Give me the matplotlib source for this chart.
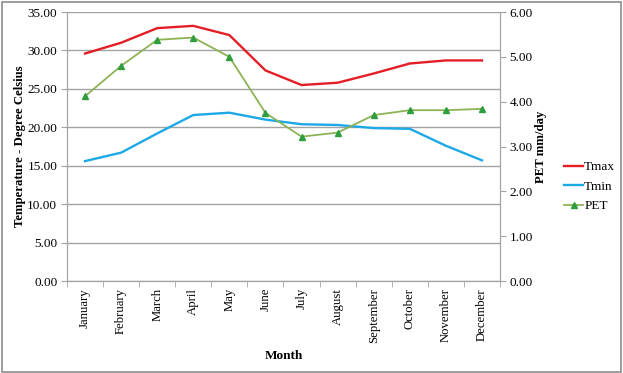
import matplotlib.pyplot as plt
from matplotlib.patches import Rectangle
import numpy as np

months = ["January", "February", "March", "April", "May", "June", "July",
          "August", "September", "October", "November", "December"]
tmax = [29.6, 31.0, 32.9, 33.2, 32.0, 27.4, 25.5, 25.8, 27.0, 28.3, 28.7, 28.7]
tmin = [15.6, 16.7, 19.2, 21.6, 21.9, 21.0, 20.4, 20.3, 19.9, 19.8, 17.6, 15.7]
pet = [4.12, 4.80, 5.38, 5.43, 5.00, 3.75, 3.22, 3.31, 3.70, 3.81, 3.81, 3.84]

plt.rcParams["font.family"] = ["Liberation Serif", "DejaVu Serif"]
plt.rcParams["font.size"] = 9.5

fig = plt.figure(figsize=(6.23, 3.73), dpi=100)
ax = fig.add_axes([0.1075, 0.2466, 0.6951, 0.7212])
ax2 = ax.twinx()

x = np.arange(len(months))
grid_c = "#A3A3A3"

l1, = ax.plot(x, tmax, color="#E41E26", lw=1.7, label="Tmax")
l2, = ax.plot(x, tmin, color="#1CA9E6", lw=1.7, label="Tmin")
l3, = ax2.plot(x, pet, color="#8DB255", lw=1.3, marker="^", ms=4.5,
               mfc="#2E9E3C", mec="#2E9E3C", label="PET")

ax.set_xlim(-0.5, 11.5)
ax.set_ylim(0, 35)
ax2.set_ylim(0, 6)
ax.set_yticks(np.arange(0, 36, 5))
ax.set_yticklabels([f"{v:.2f}" for v in np.arange(0, 36, 5)])
ax2.set_yticks(np.arange(0, 7, 1))
ax2.set_yticklabels([f"{v:.2f}" for v in np.arange(0, 7, 1)])

ax.set_xticks(x)
ax.set_xticklabels(months, rotation=90, fontsize=9.2)
ax.set_xticks(np.arange(-0.5, 12, 1), minor=True)
ax.tick_params(axis="x", which="major", length=0, pad=5)
ax.tick_params(axis="x", which="minor", length=4, color=grid_c)
ax.tick_params(axis="y", length=4, color=grid_c, pad=3)
ax2.tick_params(axis="y", length=4, color=grid_c, pad=3)

ax.grid(axis="y", color=grid_c, lw=1)
ax.set_axisbelow(True)
ax.spines["top"].set_visible(False)
ax2.spines["top"].set_visible(False)
for a in (ax, ax2):
    for sp in ["left", "right", "bottom"]:
        a.spines[sp].set_color(grid_c)

ax.set_xlabel("Month", fontweight="bold", fontsize=9.5, labelpad=5)
ax.set_ylabel("Temperature - Degree Celsius", fontweight="bold", fontsize=9.2, labelpad=1)
ax2.set_ylabel("PET mm/day", fontweight="bold", fontsize=9.2, labelpad=1)

fig.legend([l1, l2, l3], ["Tmax", "Tmin", "PET"], loc="center left",
           bbox_to_anchor=(0.887, 0.499), frameon=False, handlelength=1.4,
           handletextpad=0.1, labelspacing=0.55, fontsize=9.5, markerscale=0.9)

fig.patches.append(Rectangle((0.003, 0.004), 0.994, 0.99, transform=fig.transFigure,
                             fill=False, edgecolor="#8C8C8C", lw=1.2))

fig.savefig("out.png", dpi=100)
